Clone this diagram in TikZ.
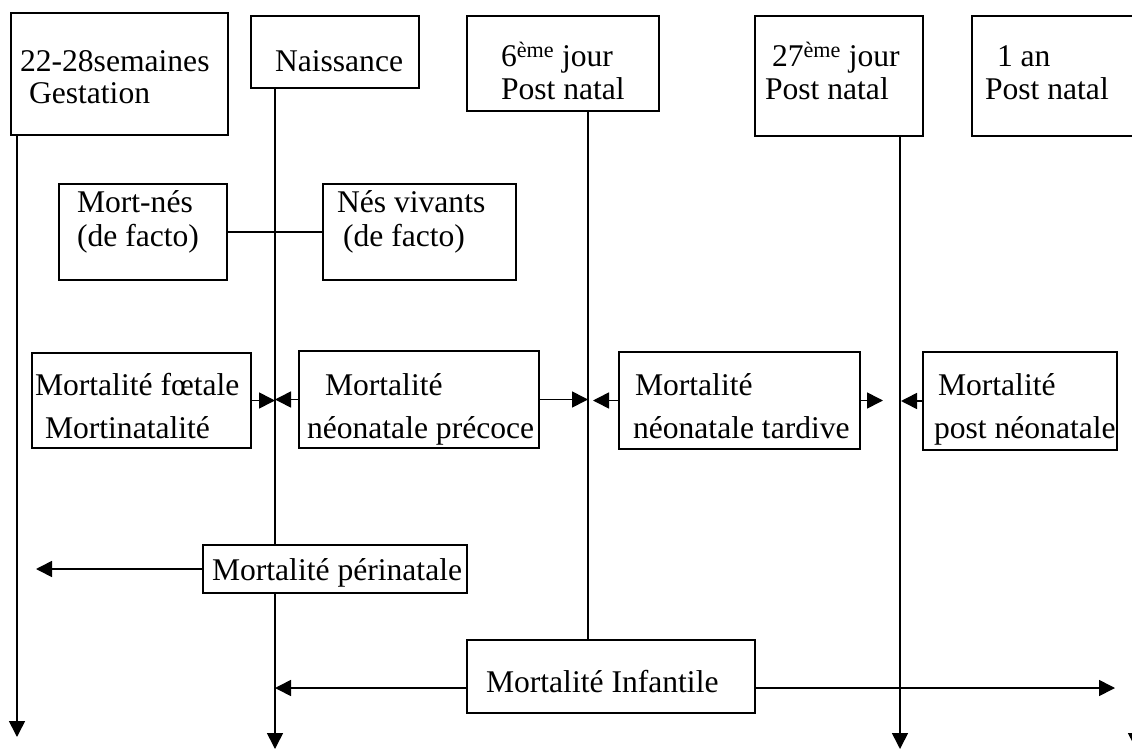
\documentclass[tikz,border=0pt]{standalone}
\usepackage{fontspec}
\setmainfont{Liberation Serif}
\usetikzlibrary{arrows.meta}
\tikzset{
  bx/.style={draw, line width=1.6pt, fill=white, inner sep=0pt, outer sep=0pt, anchor=north west},
  txt/.style={anchor=base west, inner sep=0pt, outer sep=0pt, font=\fontsize{31.6}{36}\selectfont},
  ln/.style={line width=1.6pt},
  arr/.style={line width=1.6pt, -{Triangle[length=16pt,width=16pt]}}
}
\begin{document}
\begin{tikzpicture}[x=1pt,y=-1pt]
\useasboundingbox (0,0) rectangle (1132,749);
\clip (0,0) rectangle (1132,749);
\fill[white] (0,0) rectangle (1132,749);

% helper coordinates for vertical time lines and arrow ends
\coordinate (gEnd) at (17,737);
\coordinate (nEnd) at (275,749);
\coordinate (sixX) at (588,0);
\coordinate (vEnd) at (900,749);
\coordinate (anEnd) at (1136,749);
\coordinate (tardTipL) at (593,0);
\coordinate (tardTipR) at (883,0);
\coordinate (postTip) at (901,0);
\coordinate (periL) at (36,569);
\coordinate (infY) at (0,688);
\coordinate (infR) at (1115,688);

% boxes (top row)
\node[bx, minimum width=217pt, minimum height=122pt] (gest) at (11,13) {};
\node[bx, minimum width=168pt, minimum height=72pt] (nais) at (251,16) {};
\node[bx, minimum width=192pt, minimum height=95pt] (six) at (467,16) {};
\node[bx, minimum width=168pt, minimum height=120pt] (vsept) at (755,16) {};
\node[bx, minimum width=200pt, minimum height=120pt] (an) at (972,16) {};

% vertical lines
\draw[arr] (gEnd |- gest.south) -- (gEnd);
\draw[arr] (nEnd |- nais.south) -- (nEnd);
\draw[arr] (vEnd |- vsept.south) -- (vEnd);
\draw[arr] (anEnd |- an.south) -- (anEnd);

% second row
\node[bx, minimum width=168pt, minimum height=96pt] (mort) at (59,184) {};
\node[bx, minimum width=193pt, minimum height=96pt] (viv) at (323,184) {};
\draw[ln] (mort.east) -- (viv.west);

% third row
\node[bx, minimum width=219pt, minimum height=95pt] (foet) at (32,353) {};
\node[bx, minimum width=240pt, minimum height=97pt] (prec) at (299,351) {};
\node[bx, minimum width=241pt, minimum height=97pt] (tard) at (619,352) {};
\node[bx, minimum width=194pt, minimum height=98pt] (postn) at (923,352) {};

% bottom boxes
\node[bx, minimum width=264pt, minimum height=48pt] (peri) at (203,545) {};
\node[bx, minimum width=288pt, minimum height=73pt] (inf) at (467,640) {};

\draw[ln] (six.south -| sixX) -- (inf.north -| sixX);

% middle arrows
\draw[arr] (foet.east) -- (foet.east -| nEnd);
\draw[arr] (prec.west) -- (prec.west -| nEnd);
\draw[arr] (prec.east) -- (prec.east -| sixX);
\draw[arr] (tard.west) -- (tard.west -| tardTipL);
\draw[arr] (tard.east) -- (tard.east -| tardTipR);
\draw[arr] (postn.west) -- (postn.west -| postTip);

% bottom arrows
\draw[arr] (peri.west |- periL) -- (periL);
\draw[arr] (inf.west |- infY) -- (nEnd |- infY);
\draw[arr] (inf.east |- infR) -- (infR);

% texts
\node[txt] (t1a) at (20,72) {22-28semaines};
\node[txt] (t1b) at (29,104) {Gestation};
\node[txt] (t2) at (275,72) {Naissance};
\node[txt] (t3a) at (501,67) {6\textsuperscript{ème} jour};
\node[txt] (t3b) at (501,100) {Post natal};
\node[txt] (t4a) at (772,67) {27\textsuperscript{ème} jour};
\node[txt] (t4b) at (765,100) {Post natal};
\node[txt] (t5a) at (997,67) {1 an};
\node[txt] (t5b) at (985,100) {Post natal};
\node[txt] (t6a) at (77,212) {Mort-nés};
\node[txt] (t6b) at (77,246) {(de facto)};
\node[txt] (t7a) at (337,212) {Nés vivants};
\node[txt] (t7b) at (343,246) {(de facto)};
\node[txt] (t8a) at (35,395) {Mortalité fœtale};
\node[txt] (t8b) at (45,438) {Mortinatalité};
\node[txt] (t9a) at (325,395) {Mortalité};
\node[txt] (t9b) at (307,438) {néonatale précoce};
\node[txt] (t10a) at (635,395) {Mortalité};
\node[txt] (t10b) at (633,438) {néonatale tardive};
\node[txt] (t11a) at (938,395) {Mortalité};
\node[txt] (t11b) at (934,438) {post néonatale};
\node[txt] (t12) at (212,580) {Mortalité périnatale};
\node[txt] (t13) at (486,692) {Mortalité Infantile};
\end{tikzpicture}
\end{document}
